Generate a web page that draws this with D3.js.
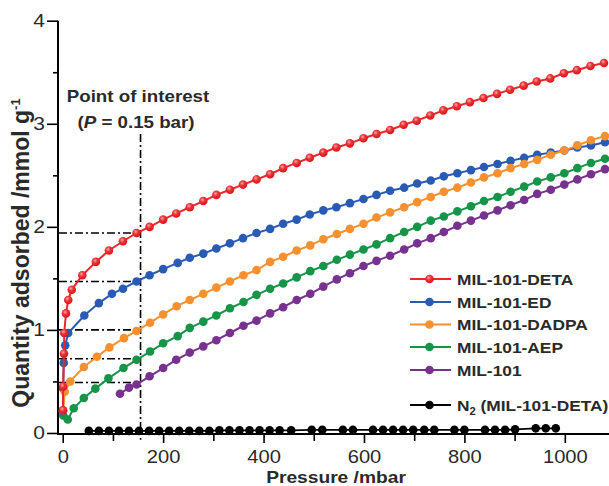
<!DOCTYPE html>
<html>
<head>
<meta charset="utf-8">
<script src="https://cdn.jsdelivr.net/npm/d3@7"></script>
<style>
  body { margin: 0; background: #fff; }
  svg { display: block; }
</style>
</head>
<body>
<div id="chart"></div>
<script>
// DATA (pressure in mbar, quantity in mmol/g)
const deta = [[0.5,0.22],[0.8,0.45],[2.5,0.77],[3,0.97],[6.5,1.16],[11,1.29],[18,1.39],[39,1.53],[66,1.66],[92,1.77],[120,1.86],[147,1.94],[173,2.00],[200,2.07],[226,2.13],[253,2.19],[280,2.25],[306,2.31],[333,2.36],[359,2.41],[386,2.46],[413,2.51],[439,2.57],[466,2.62],[492,2.67],[519,2.72],[545,2.77],[572,2.81],[599,2.86],[625,2.90],[652,2.94],[679,2.99],[705,3.03],[732,3.08],[758,3.13],[785,3.17],[811,3.21],[838,3.25],[865,3.29],[891,3.33],[918,3.37],[944,3.41],[971,3.44],[998,3.49],[1024,3.52],[1051,3.56],[1078,3.59]];
const ed = [[0.5,0.21],[1,0.43],[2,0.68],[5,0.85],[11,0.97],[43,1.14],[72,1.26],[98,1.35],[120,1.40],[147,1.47],[173,1.53],[200,1.59],[229,1.65],[253,1.70],[280,1.74],[306,1.79],[333,1.84],[359,1.89],[386,1.94],[413,1.98],[439,2.03],[466,2.07],[492,2.12],[519,2.16],[545,2.19],[572,2.23],[599,2.27],[625,2.31],[652,2.35],[680,2.38],[706,2.42],[733,2.45],[759,2.49],[786,2.52],[813,2.55],[839,2.58],[866,2.61],[892,2.64],[919,2.67],[945,2.70],[972,2.72],[999,2.74],[1025,2.77],[1052,2.79],[1080,2.82]];
const dadpa = [[1,0.22],[4,0.40],[15,0.50],[42,0.64],[68,0.74],[93,0.83],[122,0.92],[147,0.99],[174,1.07],[200,1.15],[227,1.23],[253,1.29],[280,1.35],[306,1.41],[333,1.47],[360,1.53],[386,1.58],[413,1.66],[439,1.71],[466,1.77],[493,1.82],[519,1.88],[546,1.93],[572,1.98],[599,2.03],[625,2.09],[652,2.14],[680,2.19],[706,2.24],[733,2.29],[759,2.34],[786,2.38],[813,2.43],[839,2.48],[866,2.52],[892,2.57],[919,2.61],[945,2.65],[972,2.70],[999,2.74],[1025,2.79],[1052,2.84],[1080,2.88]];
const aep = [[1,0.17],[10,0.13],[22,0.24],[42,0.34],[65,0.43],[91,0.53],[121,0.63],[147,0.71],[174,0.79],[200,0.87],[229,0.94],[253,1.02],[280,1.08],[306,1.14],[333,1.21],[360,1.27],[386,1.34],[413,1.40],[439,1.45],[466,1.51],[493,1.57],[519,1.62],[546,1.68],[572,1.73],[599,1.78],[625,1.83],[652,1.89],[680,1.95],[706,2.00],[733,2.06],[759,2.10],[786,2.15],[813,2.20],[839,2.25],[866,2.29],[892,2.34],[919,2.39],[945,2.44],[972,2.48],[999,2.52],[1025,2.57],[1052,2.62],[1080,2.66]];
const mil101 = [[114,0.38],[132,0.44],[147,0.47],[173,0.55],[200,0.63],[226,0.71],[253,0.78],[280,0.84],[306,0.90],[333,0.97],[360,1.04],[386,1.09],[413,1.16],[439,1.22],[466,1.29],[493,1.35],[519,1.42],[546,1.49],[572,1.55],[599,1.62],[625,1.67],[652,1.72],[680,1.78],[706,1.84],[733,1.89],[759,1.95],[786,2.01],[813,2.06],[839,2.11],[866,2.16],[892,2.21],[919,2.26],[945,2.32],[972,2.36],[999,2.41],[1025,2.46],[1052,2.51],[1080,2.56]];
const n2 = [[52,0.02],[72,0.02],[92,0.02],[112,0.02],[132,0.02],[152,0.02],[172,0.02],[192,0.02],[212,0.02],[232,0.02],[252,0.02],[272,0.02],[292,0.02],[312,0.025],[332,0.025],[352,0.025],[372,0.025],[392,0.025],[412,0.025],[432,0.025],[455,0.025],[496,0.03],[517,0.03],[558,0.03],[578,0.03],[618,0.03],[638,0.03],[658,0.03],[678,0.03],[698,0.03],[720,0.03],[740,0.03],[780,0.03],[800,0.03],[841,0.03],[861,0.03],[881,0.03],[901,0.035],[942,0.045],[962,0.045],[982,0.045]];

const seriesNames = ["MIL-101-DETA", "MIL-101-ED", "MIL-101-DADPA", "MIL-101-AEP", "MIL-101"];
const seriesData = [deta, ed, dadpa, aep, mil101];
const seriesColors = ["#ea272b", "#2a5bb4", "#f7902f", "#169448", "#77318f"];
const drawOrder = [4, 3, 1, 2, 0];

const xMajorTicks = [0, 200, 400, 600, 800, 1000];
const xMinorTicks = [100, 300, 500, 700, 900];
const yMajorTicks = [0, 1, 2, 3, 4];
const yMinorTicks = [0.5, 1.5, 2.5, 3.5];

// point of interest (P ~ 0.15 bar) and the uptakes read there
const poiPressure = 155;
const poiValues = [1.94, 1.47, 1.00, 0.72, 0.49];
const poiTop = 2.9;

// LAYOUT
const W = 609, H = 486;
const FONT = "'Liberation Sans', Arial, Helvetica, sans-serif";

const svg = d3.select("#chart").append("svg")
    .attr("width", W)
    .attr("height", H)
    .style("font-family", FONT);

svg.append("rect").attr("width", W).attr("height", H).attr("fill", "#fff");

const x = d3.scaleLinear().domain([-9.4, 1088]).range([58, 609]);
const y = d3.scaleLinear().domain([-0.01, 4]).range([434, 20.7]);

const defs = svg.append("defs");
const grad = defs.append("radialGradient")
    .attr("id", "detaGrad")
    .attr("cx", "0.4").attr("cy", "0.35").attr("r", "0.6");
grad.append("stop").attr("offset", "0").attr("stop-color", "#f7aaab");
grad.append("stop").attr("offset", "0.45").attr("stop-color", "#ec3538");
grad.append("stop").attr("offset", "1").attr("stop-color", "#e0171c");

// AXES
const gx = svg.append("g").attr("transform", `translate(0,${434})`);
gx.call(d3.axisBottom(x).tickValues(xMajorTicks).tickSize(9).tickSizeOuter(0).tickPadding(8).tickFormat(d3.format("d")));
gx.append("g").call(d3.axisBottom(x).tickValues(xMinorTicks).tickSize(7).tickSizeOuter(0).tickFormat(""));
gx.selectAll(".domain").remove();
gx.selectAll("line").attr("stroke", "#000").attr("stroke-width", 1.6);
gx.selectAll("text")
    .attr("font-family", FONT)
    .attr("font-size", 17.5)
    .attr("fill", "#2a2a2a")
    .attr("transform", "scale(1.15,1)");

const gy = svg.append("g").attr("transform", `translate(58,0)`);
gy.call(d3.axisLeft(y).tickValues(yMajorTicks).tickSize(11).tickSizeOuter(0).tickFormat(d3.format("d")));
gy.append("g").call(d3.axisLeft(y).tickValues(yMinorTicks).tickSize(5).tickSizeOuter(0).tickFormat(""));
gy.selectAll(".domain").remove();
gy.selectAll("line").attr("stroke", "#000").attr("stroke-width", 1.6);
gy.selectAll("text")
    .attr("font-family", FONT)
    .attr("font-size", 17.5)
    .attr("fill", "#2a2a2a")
    .attr("x", 0)
    .attr("transform", "translate(-13,0) scale(1.2,1)");

svg.append("line")
    .attr("x1", 58).attr("x2", 58)
    .attr("y1", y(4)).attr("y2", 435)
    .attr("stroke", "#000").attr("stroke-width", 2);
svg.append("line")
    .attr("x1", 57).attr("x2", W)
    .attr("y1", 434).attr("y2", 434)
    .attr("stroke", "#000").attr("stroke-width", 2);

// axis titles
svg.append("text")
    .attr("transform", "translate(336,483) scale(1.2,1)")
    .attr("text-anchor", "middle")
    .attr("font-size", 16)
    .attr("font-weight", "bold")
    .attr("fill", "#2a2a2a")
    .text("Pressure /mbar");

const yTitle = svg.append("text")
    .attr("transform", "translate(29,253) rotate(-90)")
    .attr("text-anchor", "middle")
    .attr("font-size", 23)
    .attr("font-weight", "bold")
    .attr("fill", "#2a2a2a");
yTitle.append("tspan").text("Quantity adsorbed /mmol g");
yTitle.append("tspan").attr("font-size", 13).attr("dy", -9).text("-1");

// POINT OF INTEREST
const dashStyle = "8,3,2,3";
const gPoi = svg.append("g")
    .attr("stroke", "#000")
    .attr("stroke-width", 1.6)
    .attr("stroke-dasharray", dashStyle)
    .attr("fill", "none");

gPoi.append("line")
    .attr("x1", x(poiPressure)).attr("x2", x(poiPressure))
    .attr("y1", y(poiTop)).attr("y2", y(-0.065));

gPoi.selectAll(".hline")
    .data(poiValues)
    .join("line")
    .attr("class", "hline")
    .attr("x1", 59).attr("x2", x(poiPressure))
    .attr("y1", d => y(d)).attr("y2", d => y(d));

svg.append("text")
    .attr("transform", "translate(138,101.5) scale(1.15,1)")
    .attr("text-anchor", "middle")
    .attr("font-size", 16.3)
    .attr("font-weight", "bold")
    .attr("fill", "#2a2a2a")
    .text("Point of interest");

const poiLabel = svg.append("text")
    .attr("transform", "translate(136,128) scale(1.15,1)")
    .attr("text-anchor", "middle")
    .attr("font-size", 16.3)
    .attr("font-weight", "bold")
    .attr("fill", "#2a2a2a");
poiLabel.append("tspan").text("(");
poiLabel.append("tspan").attr("font-style", "italic").text("P");
poiLabel.append("tspan").text(" = 0.15 bar)");

// SERIES
const line = d3.line().x(d => x(d[0])).y(d => y(d[1]));
const gSeries = svg.append("g");

// N2 reference
gSeries.append("path")
    .attr("d", line(n2))
    .attr("fill", "none")
    .attr("stroke", "#000")
    .attr("stroke-width", 1.8);
gSeries.append("g").selectAll("circle")
    .data(n2)
    .join("circle")
    .attr("cx", d => x(d[0]))
    .attr("cy", d => y(d[1]))
    .attr("r", 4.3)
    .attr("fill", "#000");

drawOrder.forEach(i => {
    const g = gSeries.append("g");
    g.append("path")
        .attr("d", line(seriesData[i]))
        .attr("fill", "none")
        .attr("stroke", seriesColors[i])
        .attr("stroke-width", 2);
    g.selectAll("circle")
        .data(seriesData[i])
        .join("circle")
        .attr("cx", d => x(d[0]))
        .attr("cy", d => y(d[1]))
        .attr("r", 4.3)
        .attr("fill", i === 0 ? "url(#detaGrad)" : seriesColors[i]);
});

// LEGEND
const legendRows = [279, 302, 324.5, 347, 370];
const gLegend = svg.append("g");

seriesNames.forEach((name, i) => {
    const row = gLegend.append("g").attr("transform", `translate(0,${legendRows[i]})`);
    row.append("line")
        .attr("x1", 410).attr("x2", 451)
        .attr("stroke", seriesColors[i]).attr("stroke-width", 2);
    row.append("circle")
        .attr("cx", 429.5).attr("r", 4.3)
        .attr("fill", i === 0 ? "url(#detaGrad)" : seriesColors[i]);
    row.append("text")
        .attr("transform", "translate(457,5.5) scale(1.12,1)")
        .attr("font-size", 15.5)
        .attr("font-weight", "bold")
        .attr("fill", "#2a2a2a")
        .text(name);
});

const n2Row = gLegend.append("g").attr("transform", "translate(0,405)");
n2Row.append("line")
    .attr("x1", 410).attr("x2", 451)
    .attr("stroke", "#000").attr("stroke-width", 2);
n2Row.append("circle").attr("cx", 429.5).attr("r", 4.3).attr("fill", "#000");
const n2Text = n2Row.append("text")
    .attr("transform", "translate(457,5.5) scale(1.12,1)")
    .attr("font-size", 15.5)
    .attr("font-weight", "bold")
    .attr("fill", "#2a2a2a");
n2Text.append("tspan").text("N");
n2Text.append("tspan").attr("font-size", 10).attr("dy", 4).text("2");
n2Text.append("tspan").attr("dy", -4).text(" (MIL-101-DETA)");
</script>
</body>
</html>
